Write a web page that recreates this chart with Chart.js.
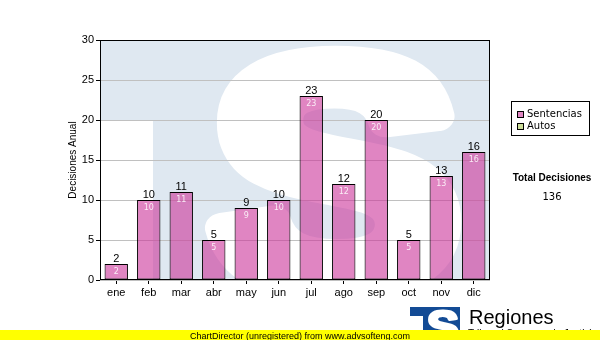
<!DOCTYPE html>
<html><head><meta charset="utf-8">
<script src="https://cdn.jsdelivr.net/npm/chart.js@4.4.1/dist/chart.umd.min.js"></script>
<style>html,body{margin:0;padding:0;background:#fff}canvas{display:block}</style>
</head><body>
<canvas id="c" width="600" height="340"></canvas>
<script>
// Monthly decisions
const months = ['ene','feb','mar','abr','may','jun','jul','ago','sep','oct','nov','dic'];
const sentencias = [2,10,11,5,9,10,23,12,20,5,13,16];
const autos = [0,0,0,0,0,0,0,0,0,0,0,0];
const yTicks = [0,5,10,15,20,25,30];
const seriesNames = ['Sentencias','Autos'];
const seriesFill = ['rgba(204,51,153,0.6)','#ccdd99'];
const swatchFill = ['#e085c2','#ccdd99'];

const LIGHT_BLUE = '#dfe8f1';
const DARK_BLUE = '#134b95';

// draws a heavy "S" glyph: filled and stroked to thicken it
function heavyS(ctx, cx, cy, size, sx, thick) {
  ctx.save();
  ctx.translate(cx, cy);
  ctx.scale(sx, 1);
  ctx.font = 'bold ' + size + 'px "Liberation Sans"';
  ctx.textAlign = 'center';
  ctx.textBaseline = 'alphabetic';
  ctx.lineJoin = 'round';
  ctx.lineWidth = thick;
  ctx.strokeStyle = ctx.fillStyle;
  const base = size * 0.73 / 2;
  ctx.fillText('S', 0, base);
  ctx.strokeText('S', 0, base);
  ctx.restore();
}

// light "TS" emblem behind the plot area
const emblem = {
  id: 'emblem',
  beforeDraw(chart) {
    const {ctx, chartArea: a} = chart;
    ctx.save();
    ctx.beginPath();
    ctx.rect(a.left, a.top, a.right - a.left, a.bottom - a.top);
    ctx.clip();
    ctx.fillStyle = LIGHT_BLUE;
    ctx.fillRect(a.left, a.top, a.right - a.left, a.bottom - a.top);
    ctx.fillStyle = '#fff';
    ctx.fillRect(a.left, a.top + 80, 53, a.bottom - a.top - 80);
    heavyS(ctx, 335, 168, 322, 1.15, 30);
    ctx.restore();
  }
};

// frame, value labels, legend, total and footer
const decorations = {
  id: 'decorations',
  afterDatasetsDraw(chart) {
    const {ctx, chartArea: a} = chart;
    ctx.save();
    ctx.strokeStyle = '#000';
    ctx.lineWidth = 1;
    ctx.strokeRect(a.left + 0.5, a.top + 0.5, a.right - a.left - 1, a.bottom - a.top - 1);

    const meta = chart.getDatasetMeta(0);
    const vals = chart.data.datasets[0].data;
    ctx.textAlign = 'center';
    ctx.textBaseline = 'alphabetic';
    meta.data.forEach((el, i) => {
      ctx.fillStyle = '#000';
      ctx.font = '11px "Liberation Sans"';
      ctx.fillText(String(vals[i]), el.x, el.y - 2);
      ctx.fillStyle = 'rgba(255,255,255,0.85)';
      ctx.font = '8px "DejaVu Sans"';
      ctx.fillText(String(vals[i]), el.x, el.y + 10);
    });
    ctx.restore();
  },
  afterDraw(chart) {
    const {ctx} = chart;
    ctx.save();
    // legend
    ctx.fillStyle = '#fff';
    ctx.fillRect(511, 101, 79, 35);
    ctx.strokeStyle = '#000';
    ctx.lineWidth = 1;
    ctx.strokeRect(511.5, 101.5, 78, 34);
    ctx.font = '10px "DejaVu Sans"';
    ctx.textAlign = 'left';
    ctx.textBaseline = 'middle';
    chart.data.datasets.forEach((ds, i) => {
      const y = 114 + i * 12;
      ctx.fillStyle = swatchFill[i];
      ctx.fillRect(517, y - 3, 7, 7);
      ctx.strokeStyle = '#000';
      ctx.strokeRect(517.5, y - 2.5, 6, 6);
      ctx.fillStyle = '#000';
      ctx.fillText(ds.label, 527, y + 0.5);
    });
    // total
    const total = sentencias.reduce((s, v) => s + v, 0) + autos.reduce((s, v) => s + v, 0);
    ctx.textAlign = 'center';
    ctx.font = 'bold 10px "Liberation Sans"';
    ctx.fillText('Total Decisiones', 552, 178);
    ctx.font = '10px "DejaVu Sans"';
    ctx.fillText(String(total), 552, 197);

    // small emblem
    ctx.fillStyle = DARK_BLUE;
    ctx.fillRect(410, 307, 50, 33);
    ctx.fillStyle = '#fff';
    ctx.fillRect(410, 316, 13, 24);
    ctx.save();
    ctx.beginPath();
    ctx.rect(410, 307, 50, 33);
    ctx.clip();
    heavyS(ctx, 443, 326, 44, 1.1, 3);
    ctx.restore();

    ctx.fillStyle = '#000';
    ctx.textAlign = 'left';
    ctx.textBaseline = 'alphabetic';
    ctx.font = '20px "Liberation Sans"';
    ctx.fillText('Regiones', 469, 324);
    ctx.font = '10px "Liberation Sans"';
    ctx.fillText('Tribunal Supremo de Justicia', 468, 336.5);

    // footer band
    ctx.fillStyle = '#ffff00';
    ctx.fillRect(0, 330, 600, 10);
    ctx.fillStyle = '#000';
    ctx.textAlign = 'center';
    ctx.font = '9px "Liberation Sans"';
    ctx.fillText('ChartDirector (unregistered) from www.advsofteng.com', 300, 338.5);
    ctx.restore();
  }
};

new Chart(document.getElementById('c'), {
  type: 'bar',
  data: {
    labels: months,
    datasets: [
      { label: seriesNames[0], data: sentencias, backgroundColor: seriesFill[0],
        borderColor: '#000', borderWidth: 1, borderSkipped: false,
        barPercentage: 0.72, categoryPercentage: 1 },
      { label: seriesNames[1], data: autos, backgroundColor: seriesFill[1],
        borderColor: '#000', borderWidth: 0,
        barPercentage: 0.72, categoryPercentage: 1 }
    ]
  },
  options: {
    responsive: false,
    animation: false,
    layout: { padding: { left: 0, right: 110, top: 40, bottom: 10 } },
    plugins: { legend: { display: false }, tooltip: { enabled: false } },
    scales: {
      x: {
        stacked: true,
        grid: { drawOnChartArea: false, drawTicks: true, tickLength: 4, tickColor: '#000', offset: false },
        border: { display: false },
        ticks: { color: '#000', font: { family: 'Liberation Sans', size: 11 }, padding: 2 },
        afterFit(s) { s.height = 50; }
      },
      y: {
        stacked: true,
        min: 0, max: 30,
        afterBuildTicks(s) { s.ticks = yTicks.map(v => ({ value: v })); },
        grid: { color: '#c0c0c0', tickLength: 4, tickColor: '#000' },
        border: { display: false },
        ticks: { color: '#000', font: { family: 'Liberation Sans', size: 11 }, padding: 2 },
        title: { display: true, text: 'Decisiones Anual', color: '#000',
                 font: { family: 'Liberation Sans', size: 10 }, padding: { top: 67, bottom: 0 } },
        afterFit(s) { s.width = 100; }
      }
    }
  },
  plugins: [emblem, decorations]
});
</script>
</body></html>
